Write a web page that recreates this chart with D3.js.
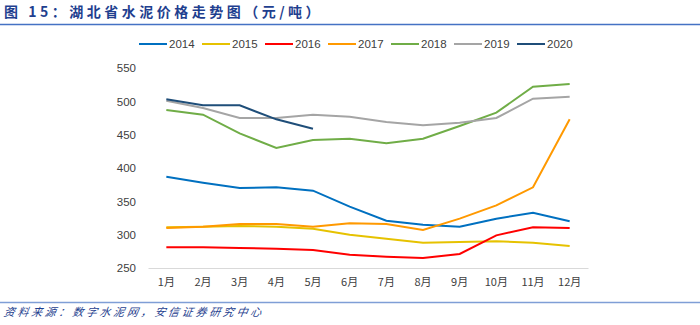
<!DOCTYPE html>
<html>
<head>
<meta charset="utf-8">
<script src="https://cdn.jsdelivr.net/npm/d3@7"></script>
<style>
  body { margin: 0; background: #fff; }
  svg { display: block; font-family: "Liberation Sans", Arial, sans-serif; }
</style>
</head>
<body>
<div id="chart"></div>
<script>
const months = ['1月', '2月', '3月', '4月', '5月', '6月', '7月', '8月', '9月', '10月', '11月', '12月'];
const years = ['2014', '2015', '2016', '2017', '2018', '2019', '2020'];
const colors = ['#0070C0', '#E6C200', '#FF0000', '#FF9900', '#70AD47', '#A5A5A5', '#1F4E79'];
const yTicks = [250, 300, 350, 400, 450, 500, 550];

const v2014 = [387, 378, 370, 371, 366, 342, 321, 315, 312, 324, 333, 320];
const v2015 = [311, 312, 313, 312, 309, 300, 294, 288, 289, 290, 288, 283];
const v2016 = [281, 281, 280, 279, 277, 270, 267, 265, 271, 299, 311, 310];
const v2017 = [310, 312, 316, 316, 312, 317, 316, 307, 324, 344, 371, 473];
const v2018 = [487, 480, 452, 430, 442, 444, 437, 444, 463, 483, 522, 526];
const v2019 = [501, 490, 475, 475, 480, 477, 469, 464, 468, 475, 504, 507];
const v2020 = [503, 494, 494, 473, 459];
const series = [v2014, v2015, v2016, v2017, v2018, v2019, v2020];

const W = 700, H = 325;
const svg = d3.select('#chart').append('svg')
    .attr('width', W).attr('height', H);

// title + rules
svg.append('text')
    .attr('x', 4).attr('y', 17)
    .attr('fill', '#1F3F8F')
    .attr('font-size', 14).attr('font-weight', 'bold')
    .attr('font-family', '"Noto Sans CJK SC", sans-serif')
    .attr('letter-spacing', 3.5)
    .text('图 15：湖北省水泥价格走势图（元/吨）');
svg.append('line').attr('x1', 0).attr('x2', W).attr('y1', 24.5).attr('y2', 24.5)
    .attr('stroke', '#4472C4').attr('stroke-width', 1.5);
svg.append('line').attr('x1', 0).attr('x2', W).attr('y1', 302.5).attr('y2', 302.5)
    .attr('stroke', '#7F9ED6').attr('stroke-width', 1.5);
svg.append('text')
    .attr('x', 4).attr('y', 316)
    .attr('fill', '#1F3F8F')
    .attr('font-size', 11).attr('font-style', 'italic')
    .attr('font-family', '"Noto Sans CJK SC", sans-serif')
    .attr('letter-spacing', 2.7)
    .attr('transform', 'skewX(-10) translate(55,0)')
    .text('资料来源：数字水泥网，安信证券研究中心');

const x = d3.scaleBand().domain(months).range([148, 588]);
const y = d3.scaleLinear().domain([250, 550]).range([268, 68]);

// y axis labels
const yAxis = svg.append('g').attr('transform', 'translate(136,0)')
    .call(d3.axisLeft(y).tickValues(yTicks).tickSize(0).tickPadding(0));
yAxis.select('.domain').remove();
yAxis.selectAll('text').attr('fill', '#404040').attr('font-size', 11.5)
    .attr('font-family', '"Liberation Sans", Arial, sans-serif');

// x axis
const xAxis = svg.append('g').attr('transform', 'translate(0,268)')
    .call(d3.axisBottom(x).tickSize(0).tickPadding(10));
xAxis.select('.domain').attr('stroke', '#D9D9D9');
xAxis.selectAll('text').attr('fill', '#404040').attr('font-size', 11)
    .attr('font-family', '"Noto Sans CJK SC", sans-serif');

// lines
const line = d3.line()
    .x((d, i) => x(months[i]) + x.bandwidth() / 2)
    .y(d => y(d));

series.forEach((s, k) => {
    svg.append('path')
        .attr('d', line(s))
        .attr('fill', 'none')
        .attr('stroke', colors[k])
        .attr('stroke-width', 2);
});

// legend
const legend = svg.append('g').attr('transform', 'translate(139,44)');
years.forEach((yr, k) => {
    const g = legend.append('g').attr('transform', `translate(${k * 63},0)`);
    g.append('line').attr('x1', 0).attr('x2', 28).attr('y1', 0).attr('y2', 0)
        .attr('stroke', colors[k]).attr('stroke-width', 2);
    g.append('text').attr('x', 30).attr('y', 4)
        .attr('fill', '#404040').attr('font-size', 11.5)
        .text(yr);
});
</script>
</body>
</html>
